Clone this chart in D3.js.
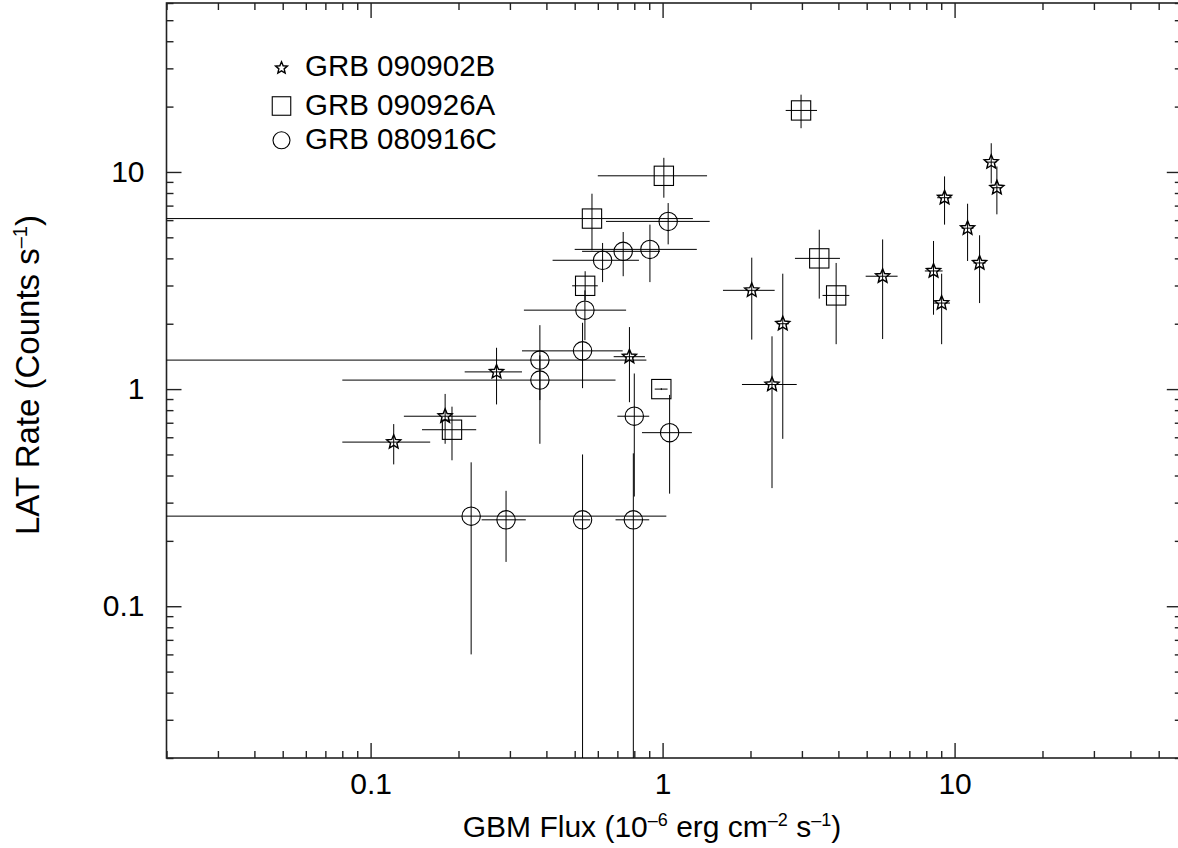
<!DOCTYPE html>
<html>
<head>
<meta charset="utf-8">
<script src="https://cdn.jsdelivr.net/npm/d3@7"></script>
<style>
  body { margin: 0; background: #fff; }
  text { font-family: "Liberation Sans", Arial, Helvetica, sans-serif; fill: #000; }
  .err { stroke: #000; stroke-width: 1; fill: none; }
  .mark { stroke: #000; stroke-width: 1.1; fill: none; }
  .star { stroke: #000; stroke-width: 1.4; fill: none; }
  .frame { stroke: #222; stroke-width: 1.6; fill: none; }
  .tick line { stroke: #222; stroke-width: 1.4; }
</style>
</head>
<body>
<svg id="canvas" width="1178" height="848"></svg>
<script>
// ************************************************************************************** //
// Data (flux in 1e-6 erg cm-2 s-1, rate in counts/s). Bounds below 0.02 run off the frame.

// GRB 090902B (stars)
var star_flux    = [0.12, 0.18, 0.27, 0.77, 2.02, 2.58, 2.37, 5.67, 8.47, 9.03, 9.24, 11.08, 12.18, 13.35, 13.96];
var star_flux_lo = [0.08, 0.13, 0.21, 0.68, 1.61, 2.46, 1.87, 4.96, 7.91, 8.45, 8.72, 10.57, 11.60, 12.80, 13.40];
var star_flux_hi = [0.16, 0.23, 0.33, 0.87, 2.42, 2.71, 2.88, 6.38, 9.10, 9.64, 9.77, 11.61, 12.77, 13.90, 14.50];
var star_rate    = [0.57, 0.75, 1.20, 1.41, 2.85, 2.00, 1.05, 3.31, 3.50, 2.49, 7.61, 5.51, 3.81, 11.10, 8.46];
var star_rate_lo = [0.45, 0.56, 0.85, 0.87, 1.69, 0.59, 0.35, 1.70, 2.20, 1.61, 5.72, 3.89, 2.49, 8.85, 6.38];
var star_rate_hi = [0.69, 0.95, 1.55, 1.93, 4.03, 3.40, 1.75, 4.89, 4.81, 3.40, 9.54, 7.14, 5.11, 13.56, 10.60];

// GRB 090926A (squares)
var sq_flux    = [1.01, 2.98, 0.573, 0.543, 0.99, 3.44, 3.93, 0.19];
var sq_flux_lo = [0.60, 2.64, 0.010, 0.49, 0.94, 2.84, 3.53, 0.15];
var sq_flux_hi = [1.42, 3.38, 1.27, 0.60, 1.04, 4.05, 4.36, 0.23];
var sq_rate    = [9.60, 19.2, 6.10, 2.99, 1.00, 4.00, 2.70, 0.65];
var sq_rate_lo = [7.61, 15.9, 4.36, 2.57, 0.99, 2.61, 1.61, 0.47];
var sq_rate_hi = [11.62, 22.7, 7.94, 3.49, 1.01, 5.42, 3.81, 0.83];

// GRB 080916C (circles)
var circ_flux    = [1.045, 0.905, 0.733, 0.623, 0.542, 0.532, 0.38, 0.38, 0.80, 1.057, 0.221, 0.291, 0.532, 0.794];
var circ_flux_lo = [0.64, 0.50, 0.53, 0.42, 0.335, 0.33, 0.010, 0.08, 0.70, 0.85, 0.010, 0.24, 0.50, 0.69];
var circ_flux_hi = [1.45, 1.31, 0.98, 0.83, 0.75, 0.73, 0.88, 0.69, 0.90, 1.26, 1.03, 0.34, 0.565, 0.90];
var circ_rate    = [5.92, 4.40, 4.31, 3.92, 2.31, 1.50, 1.36, 1.10, 0.75, 0.63, 0.26, 0.25, 0.25, 0.25];
var circ_rate_lo = [4.64, 3.11, 3.31, 3.11, 1.68, 1.01, 0.89, 0.56, 0.32, 0.33, 0.06, 0.16, 0.010, 0.010];
var circ_rate_hi = [7.19, 5.72, 5.29, 4.71, 2.85, 2.02, 1.97, 1.43, 1.18, 0.94, 0.46, 0.34, 0.50, 0.506];

var legend_names = ['GRB 090902B', 'GRB 090926A', 'GRB 080916C'];
var major_ticks = [0.1, 1, 10];
var minor_ticks = [0.02, 0.03, 0.04, 0.05, 0.06, 0.07, 0.08, 0.09,
                   0.2, 0.3, 0.4, 0.5, 0.6, 0.7, 0.8, 0.9,
                   2, 3, 4, 5, 6, 7, 8, 9, 20, 30, 40, 50, 60];

// ************************************************************************************** //
// Scales and frame

var left = 166.5, right = 1181.8, top_ = 3, bottom = 758;
var x = d3.scaleLog().domain([0.02, 60]).range([left, right]);
var y = d3.scaleLog().domain([0.02, 60]).range([bottom, top_]);

var svg = d3.select('#canvas');

svg.append('clipPath').attr('id', 'plot_clip')
  .append('rect').attr('x', left).attr('y', top_).attr('width', right - left).attr('height', bottom - top_);

function addAxis(gen, transform, vals, size, labels){
  gen.tickValues(vals).tickSize(size).tickSizeOuter(0);
  if(labels){ gen.tickFormat(d3.format('~g')); } else { gen.tickFormat(''); }
  var g = svg.append('g').attr('transform', transform).call(gen);
  g.select('.domain').remove();
  g.attr('font-family', null).attr('font-size', 30);
  return g;
}

// inward ticks on all four sides
addAxis(d3.axisBottom(x).tickPadding(15), 'translate(0,' + bottom + ')', major_ticks, -15, true);
addAxis(d3.axisBottom(x), 'translate(0,' + bottom + ')', minor_ticks, -7, false);
addAxis(d3.axisTop(x), 'translate(0,' + top_ + ')', major_ticks, -15, false);
addAxis(d3.axisTop(x), 'translate(0,' + top_ + ')', minor_ticks, -7, false);
addAxis(d3.axisLeft(y).tickPadding(22), 'translate(' + left + ',0)', major_ticks, -15, true);
addAxis(d3.axisLeft(y), 'translate(' + left + ',0)', minor_ticks, -7, false);
addAxis(d3.axisRight(y), 'translate(' + right + ',0)', major_ticks, -15, false);
addAxis(d3.axisRight(y), 'translate(' + right + ',0)', minor_ticks, -7, false);

svg.append('rect').attr('class', 'frame')
  .attr('x', left).attr('y', top_).attr('width', right - left).attr('height', bottom - top_);

// ************************************************************************************** //
// Axis titles

var xt = svg.append('text').attr('x', 652).attr('y', 837).attr('text-anchor', 'middle').attr('font-size', 30);
xt.append('tspan').text('GBM Flux (10');
xt.append('tspan').attr('dy', -11).attr('font-size', 18).text('\u20136');
xt.append('tspan').attr('dy', 11).text(' erg cm');
xt.append('tspan').attr('dy', -11).attr('font-size', 18).text('\u20132');
xt.append('tspan').attr('dy', 11).text(' s');
xt.append('tspan').attr('dy', -11).attr('font-size', 18).text('\u20131');
xt.append('tspan').attr('dy', 11).text(')');

var yt = svg.append('text').attr('transform', 'translate(39,375) rotate(-90)').attr('text-anchor', 'middle').attr('font-size', 33);
yt.append('tspan').text('LAT Rate (Counts s');
yt.append('tspan').attr('dy', -12).attr('font-size', 20).text('\u20131');
yt.append('tspan').attr('dy', 12).text(')');

// ************************************************************************************** //
// Error bars and markers

var plot_g = svg.append('g').attr('clip-path', 'url(#plot_clip)');

function starPath(R){
  var pts = [];
  for(var k = 0; k < 10; k++){
    var r = (k % 2 == 0) ? R : R*0.45;
    var a = -Math.PI/2 + k*Math.PI/5;
    pts.push([r*Math.cos(a), r*Math.sin(a)]);
  }
  return 'M' + pts.map(function(p){ return p[0].toFixed(2) + ',' + p[1].toFixed(2); }).join('L') + 'Z';
}

function drawSeries(flux, flo, fhi, rate, rlo, rhi, shape){
  for(var i = 0; i < flux.length; i++){
    var cx = x(flux[i]), cy = y(rate[i]);
    plot_g.append('line').attr('class', 'err')
      .attr('x1', x(flo[i])).attr('x2', x(fhi[i])).attr('y1', cy).attr('y2', cy);
    plot_g.append('line').attr('class', 'err')
      .attr('x1', cx).attr('x2', cx).attr('y1', y(rlo[i])).attr('y2', y(rhi[i]));
    addMarker(plot_g, shape, cx, cy, false);
  }
}

function addMarker(g, shape, cx, cy, small){
  if(shape == 'star'){
    g.append('path').attr('class', 'star').attr('d', starPath(small ? 6.2 : 7.4))
      .attr('transform', 'translate(' + cx + ',' + cy + ')');
  }
  if(shape == 'square'){
    var s = small ? 18.5 : 19.3;
    g.append('rect').attr('class', 'mark').attr('x', cx - s/2).attr('y', cy - s/2).attr('width', s).attr('height', s);
  }
  if(shape == 'circle'){
    g.append('circle').attr('class', 'mark').attr('cx', cx).attr('cy', cy).attr('r', small ? 8.5 : 9.2);
  }
}

drawSeries(circ_flux, circ_flux_lo, circ_flux_hi, circ_rate, circ_rate_lo, circ_rate_hi, 'circle');
drawSeries(sq_flux, sq_flux_lo, sq_flux_hi, sq_rate, sq_rate_lo, sq_rate_hi, 'square');
drawSeries(star_flux, star_flux_lo, star_flux_hi, star_rate, star_rate_lo, star_rate_hi, 'star');

// ************************************************************************************** //
// Legend

var legend_shapes = ['star', 'square', 'circle'];
var legend_sym_y = [68, 106, 140.3];
var legend_txt_y = [76, 115, 149];
var legend_g = svg.append('g');
for(var i = 0; i < legend_names.length; i++){
  addMarker(legend_g, legend_shapes[i], 281.5, legend_sym_y[i], true);
  legend_g.append('text').attr('x', 305).attr('y', legend_txt_y[i]).attr('font-size', 29.5).text(legend_names[i]);
}
</script>
</body>
</html>
